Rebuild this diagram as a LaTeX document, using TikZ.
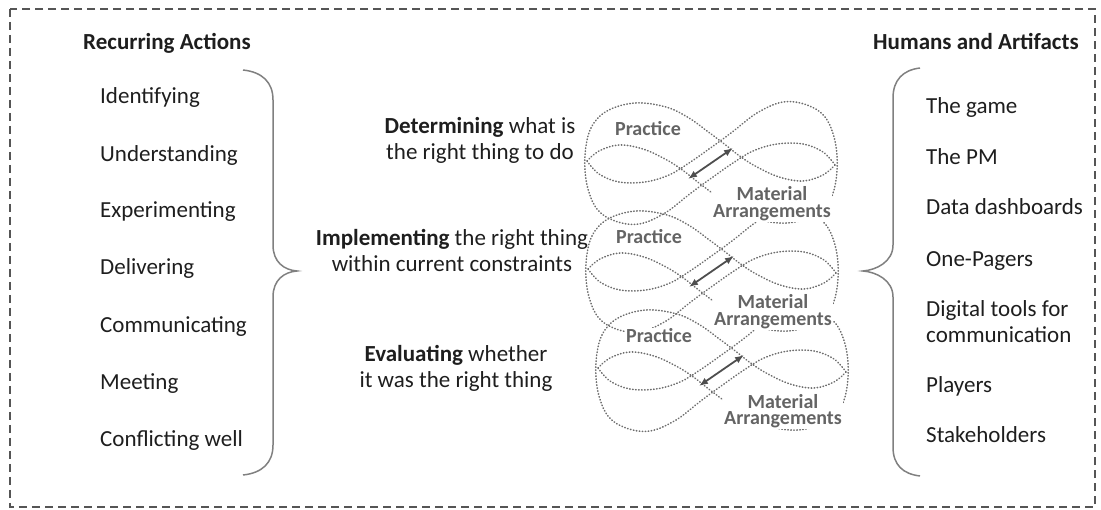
\documentclass[tikz,border=0pt]{standalone}
\usepackage{fontspec}
\setmainfont{Carlito}
\usetikzlibrary{arrows.meta}

\definecolor{ink}{HTML}{1E1E1E}
\definecolor{loopgray}{HTML}{6E6E6E}
\definecolor{labelgray}{HTML}{646464}
\definecolor{bracegray}{HTML}{808080}
\definecolor{arrowgray}{HTML}{4E4E4E}
\definecolor{framegray}{HTML}{555555}

% one lemniscate: small lobe on the left, large lobe on the right
\newcommand{\lemniscatehalf}{plot[smooth, tension=0.6] coordinates {
  (-124,-2) (-112,-12) (-92,-18) (-68,-14) (-46,-4) (-30,6) (-12,20)
  (4,32) (22,45) (45,56) (76,60) (104,52) (120,35) (126,8) (124,-22)
  (114,-46) (96,-58) (72,-61) (46,-50) (20,-30) (-2,-14) (-22,0)
  (-42,12) (-66,19) (-92,19) (-112,11) (-124,-2)}}

\tikzset{
  every node/.style={text=ink, inner sep=0pt},
  listitem/.style={anchor=base west, font=\fontsize{23}{26}\selectfont},
  heading/.style={anchor=base west, font=\fontsize{23}{26}\selectfont\bfseries},
  phase/.style={anchor=base, align=center, font=\fontsize{23}{26}\selectfont},
  loopline/.style={draw=loopgray, line width=1.6pt, line cap=round,
                   dash pattern=on 0.5pt off 2.5pt},
  looplabel/.style={text=labelgray, font=\fontsize{20}{17}\selectfont\bfseries,
                    align=center, anchor=base, fill=white, inner sep=1pt},
  brace/.style={draw=bracegray, line width=1.5pt},
  frame/.style={draw=framegray, line width=1.2pt, dash pattern=on 8pt off 5pt},
  linkarrow/.style={draw=arrowgray, line width=1.8pt,
                    {Latex[length=9pt,width=7pt]}-{Latex[length=9pt,width=7pt]}}
}

\begin{document}
\begin{tikzpicture}[x=1pt, y=-1pt]
\useasboundingbox (0,0) rectangle (1101,510);

% outer dashed frame
\draw[frame] (10,9) rectangle (1095,507);

% column headings
\node[heading] (hleft) at (83,50) {Recurring Actions};
\node[heading] (hright) at (873,50) {Humans and Artifacts};

% recurring actions
\node[listitem] (a1) at (100,104) {Identifying};
\node[listitem] (a2) at (100,162) {Understanding};
\node[listitem] (a3) at (100,218) {Experimenting};
\node[listitem] (a4) at (100,275) {Delivering};
\node[listitem] (a5) at (100,333) {Communicating};
\node[listitem] (a6) at (100,390) {Meeting};
\node[listitem] (a7) at (100,447) {Conflicting well};

% humans and artifacts (multi-line nodes sit on their last baseline)
\node[listitem] (b1) at (926,114) {The game};
\node[listitem] (b2) at (926,165) {The PM};
\node[listitem] (b3) at (926,215) {Data dashboards};
\node[listitem] (b4) at (926,267) {One-Pagers};
\node[listitem, align=left] (b5) at (926,343) {Digital tools for\\communication};
\node[listitem] (b6) at (926,393) {Players};
\node[listitem] (b7) at (926,443) {Stakeholders};

% braces
\draw[brace] (243,70) .. controls (262,72) and (273,82) .. (273,100)
  -- (273,245) .. controls (273,262) and (284,270) .. (297,271)
  .. controls (284,272) and (273,280) .. (273,297)
  -- (273,445) .. controls (273,463) and (262,473) .. (243,475);
\draw[brace] (920,68) .. controls (903,70) and (893,80) .. (893,98)
  -- (893,245) .. controls (893,262) and (876,270) .. (863,271)
  .. controls (876,272) and (893,280) .. (893,297)
  -- (893,447) .. controls (893,465) and (903,474) .. (920,476);

% phases
\node[phase] (p1) at (480,160) {\textbf{Determining} what is\\the right thing to do};
\node[phase] (p2) at (452,272) {\textbf{Implementing} the right thing\\within current constraints};
\node[phase] (p3) at (456,388) {\textbf{Evaluating} whether\\it was the right thing};

% entangled loops: practice and material arrangements
\foreach \cx/\cy in {711/163, 712/271, 722/370} {
  \begin{scope}[shift={(\cx,\cy)}]
    \draw[loopline] \lemniscatehalf;
    \draw[loopline, rotate=180] \lemniscatehalf;
  \end{scope}
}
\foreach \cx/\cy/\k in {711/163/1, 712/271/2, 722/370/3} {
  \begin{scope}[shift={(\cx,\cy)}]
    \node[looplabel] (prac\k) at (-63,-27) {Practice};
    \node[looplabel] (mat\k) at (61,55) {Material\\Arrangements};
    \coordinate (tail\k) at (-23,16);
    \coordinate (head\k) at (22,-15);
    \draw[linkarrow] (tail\k) -- (head\k);
  \end{scope}
}
\end{tikzpicture}
\end{document}
